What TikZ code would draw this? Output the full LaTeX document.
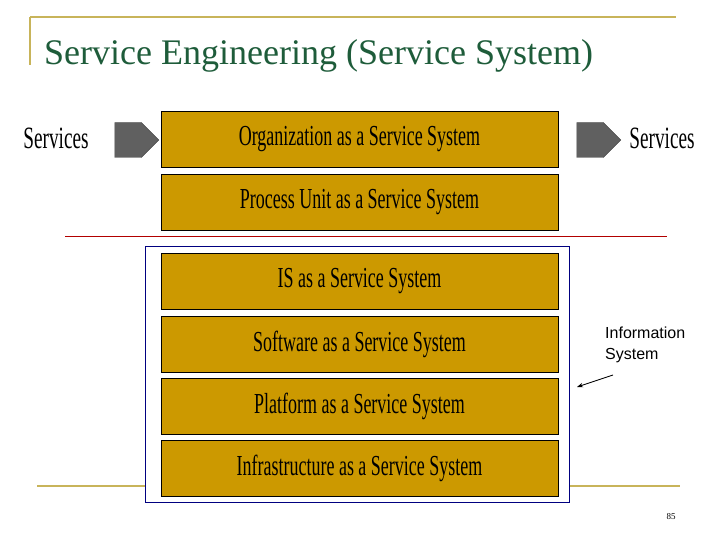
\documentclass[tikz,border=0pt]{standalone}
\usepackage{fontspec}
\setmainfont{Liberation Serif}
\newfontfamily\cond[FakeStretch=0.62]{Liberation Serif}
\newfontfamily\arialf{Liberation Sans}
\usetikzlibrary{shapes.arrows,arrows.meta}
\definecolor{gold}{HTML}{CC9900}
\definecolor{olive}{HTML}{C8B45A}
\definecolor{titlegreen}{HTML}{1E5C3A}
\definecolor{arrgray}{HTML}{606060}
\tikzset{
 layer/.style={draw=black, fill=gold, minimum width=397pt, minimum height=56pt, inner sep=0pt, font=\cond\fontsize{29}{30}\selectfont},
 svc/.style={font=\cond\fontsize{31}{32}\selectfont, inner sep=0pt},
 fat/.style={single arrow, draw=black!70, fill=arrgray, minimum height=44pt, minimum width=35pt, single arrow head extend=0pt, single arrow tip angle=90, inner sep=0pt, shape border rotate=0}
}
\begin{document}
\begin{tikzpicture}[x=1pt,y=-1pt]
\useasboundingbox (0,0) rectangle (720,540);
\draw[olive, line width=1.5pt] (30,17) -- (676,17);
\draw[olive, line width=1.5pt] (30,17) -- (30,65);
\node[anchor=base west, text=titlegreen, font=\fontsize{36}{38}\selectfont, inner sep=0pt] (title) at (44,65) {Service Engineering (Service System)};
\draw[olive, line width=1.5pt] (37,486) -- (680,486);
\draw[red!70!black, line width=0.8pt] (65,236) -- (667,236);
\draw[blue!50!black, line width=0.8pt, fill=white] (145,246) rectangle (569,502);
\node[layer] (b1) at (359.5,139) {Organization as a Service System};
\node[layer] (b2) at (359.5,202) {Process Unit as a Service System};
\node[layer] (b3) at (359.5,281) {IS as a Service System};
\node[layer] (b4) at (359.5,344) {Software as a Service System};
\node[layer] (b5) at (359.5,406) {Platform as a Service System};
\node[layer] (b6) at (359.5,468) {Infrastructure as a Service System};
\node[svc] (s1) at (56,138) {Services};
\node[svc] (s2) at (662,138) {Services};
\node[fat] (a1) at (128,140) {};
\node[fat] (a2) at (590,140) {};
\node[anchor=north west, align=left, font=\arialf\fontsize{16}{21}\selectfont, inner sep=0pt] (info) at (605,327) {Information\\System};
\coordinate (tip) at (577,387);
\draw[-{Stealth[length=6pt]}, line width=0.8pt] (613,375) -- (tip);
\node[font=\fontsize{9}{10}\selectfont] (pg) at (671,517) {85};
\end{tikzpicture}
\end{document}
